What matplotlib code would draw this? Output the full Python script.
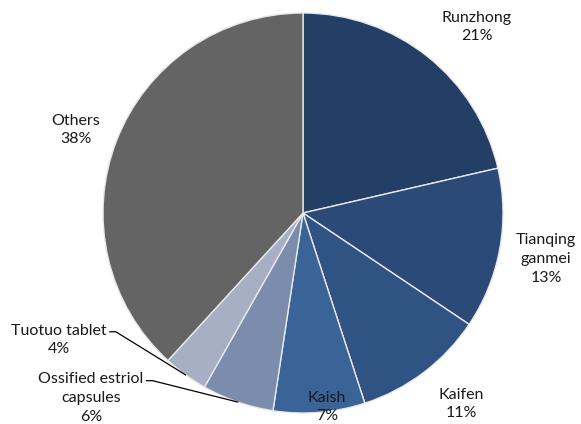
import numpy as np
import matplotlib
matplotlib.use('Agg')
import matplotlib.pyplot as plt

plt.rcParams['font.family'] = ['Lato', 'DejaVu Sans']

# Market share of each brand (%)
brands = ['Runzhong', 'Tianqing\nganmei', 'Kaifen', 'Kaish',
          'Ossified estriol\ncapsules', 'Tuotuo tablet', 'Others']
shares = [21.4, 13.0, 10.6, 7.4, 5.8, 3.6, 38.2]
colors = ['#243F66', '#2B4A77', '#2F5383', '#3A6397', '#7C8CAC', '#A6AFC3', '#646464']

# label centres in pixel coords (x from left, y from top)
label_px = [(477, 27), (546, 259), (461, 404), (327, 407),
            (91, 398), (59, 340), (76, 130)]
leader = [False, False, False, False, True, True, False]

W, H = 581, 424
cx, cy, R = 303, 213, 200
FS = 11.5

fig = plt.figure(figsize=(W / 100, H / 100), dpi=100)
ax = fig.add_axes([0, 0, 1, 1])

wedges, _ = ax.pie(shares, colors=colors, startangle=90, counterclock=False,
                   radius=1, wedgeprops=dict(edgecolor='#E8E8E8', linewidth=1))

# pie() resets the limits, so set them afterwards
ax.set_xlim(-cx / R, (W - cx) / R)
ax.set_ylim(-(H - cy) / R, cy / R)
ax.set_aspect('equal')
ax.axis('off')

def to_data(px, py):
    return (px - cx) / R, (cy - py) / R

fig.canvas.draw()
rend = fig.canvas.get_renderer()
for w, name, s, (px, py), lead in zip(wedges, brands, shares, label_px, leader):
    x, y = to_data(px, py)
    nlines = name.count('\n') + 2
    txt = ax.text(x, y, f'{name}\n{s:.0f}%', ha='center', va='center',
                  fontsize=FS, linespacing=1.45, color='#1a1a1a')
    if lead:
        mid = np.deg2rad((w.theta1 + w.theta2) / 2)
        ex, ey = np.cos(mid), np.sin(mid)
        bb = txt.get_window_extent(rend).transformed(ax.transData.inverted())
        line_h = (bb.y1 - bb.y0) / nlines
        ly = bb.y1 - line_h / 2
        first = ax.text(x, ly, name.split('\n')[0], ha='center', va='center',
                        fontsize=FS, alpha=0)
        fb = first.get_window_extent(rend).transformed(ax.transData.inverted())
        sx = fb.x1 + 0.015
        ax.plot([sx, sx + 0.03, ex], [ly, ly, ey], color='black', lw=0.9)

fig.savefig('out.png', dpi=100)
